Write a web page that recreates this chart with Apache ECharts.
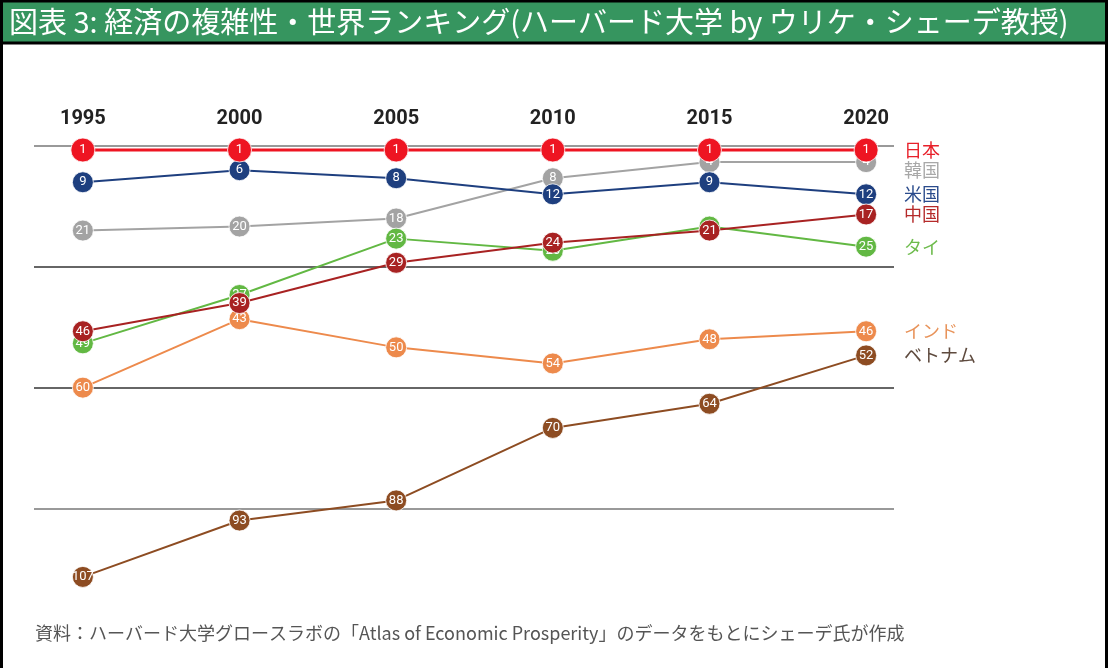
<!DOCTYPE html>
<html><head><meta charset="utf-8">
<script src="https://cdn.jsdelivr.net/npm/echarts@6/dist/echarts.min.js"></script>
<style>html,body{margin:0;padding:0;background:#fff}#c{width:1108px;height:668px}</style>
</head><body><div id="c"></div>
<script>
const years = [1995, 2000, 2005, 2010, 2015, 2020];
const japan    = [1, 1, 1, 1, 1, 1];
const korea    = [21, 20, 18, 8, 4, 4];
const usa      = [9, 6, 8, 12, 9, 12];
const china    = [46, 39, 29, 24, 21, 17];
const thailand = [49, 37, 23, 26, 20, 25];
const india    = [60, 43, 50, 54, 48, 46];
const vietnam  = [107, 93, 88, 70, 64, 52];
const gridRanks = [0, 30, 60, 90];

const chart = echarts.init(document.getElementById('c'));
const jp = '"Noto Sans CJK JP","Noto Sans",sans-serif';

function mk(name, vals, color, opts) {
  opts = opts || {};
  return {
    name: name, type: 'line',
    data: vals.map((v, i) => [years[i], v]),
    symbol: 'circle', symbolSize: opts.size || 21,
    itemStyle: { color: color, borderColor: '#fff', borderWidth: 0.8, opacity: 1 },
    lineStyle: { color: color, width: opts.lw || 2 },
    label: { show: true, position: 'inside', color: '#fff', fontSize: 13, fontFamily: 'Roboto, sans-serif', formatter: p => p.value[1] },
    endLabel: { show: true, formatter: name, color: opts.lc || color, fontSize: 18, fontFamily: jp, distance: 38, offset: [0, opts.dy || 0] },
    z: opts.z || 2,
    silent: true,
    animation: false
  };
}

const series = [
  mk('韓国', korea, '#a3a3a3', { lc: '#a8a8a8', dy: 8, z: 2 }),
  mk('タイ', thailand, '#62b843', { lc: '#6dbb4c', z: 3 }),
  mk('インド', india, '#ed8a4c', { lc: '#e8935a', z: 4 }),
  mk('ベトナム', vietnam, '#8d4c22', { lc: '#5e4a3e', z: 5 }),
  mk('米国', usa, '#1e3f7f', { lc: '#2a4b8c', z: 6 }),
  mk('中国', china, '#a82222', { lc: '#b52a2a', z: 7 }),
  mk('日本', japan, '#ee1522', { lc: '#e8202a', lw: 3, size: 24, z: 8 })
];
series[0].markLine = {
  silent: true, symbol: 'none', label: { show: false },
  lineStyle: { type: 'solid', width: 1.6, color: '#444' },
  data: gridRanks.map((r, i) => ({ yAxis: r, lineStyle: { color: (i === 0 || i === 3) ? '#777' : '#333' } })),
  z: 1
};

chart.setOption({
  animation: false,
  grid: { left: 34, right: 214, top: 146, bottom: 79 },
  xAxis: {
    type: 'value', position: 'top', min: 1993.44, max: 2020.89,
    axisLine: { show: false }, axisTick: { show: false }, splitLine: { show: false },
    axisLabel: { customValues: years, formatter: v => String(v), margin: 17, fontSize: 20, fontWeight: 'bold', color: '#222', fontFamily: 'Roboto, "Liberation Sans", sans-serif' }
  },
  yAxis: {
    type: 'value', inverse: true, min: 0, max: 110,
    axisLine: { show: false }, axisTick: { show: false }, axisLabel: { show: false }, splitLine: { show: false }
  },
  series: series,
  graphic: [
    { type: 'rect', shape: { x: 1.5, y: 1, width: 1105, height: 42 }, style: { fill: '#36955f', stroke: '#000', lineWidth: 3 }, z: 10 },
    { type: 'line', shape: { x1: 1.5, y1: 0, x2: 1.5, y2: 668 }, style: { stroke: '#000', lineWidth: 3 }, z: 10 },
    { type: 'line', shape: { x1: 1106.5, y1: 0, x2: 1106.5, y2: 668 }, style: { stroke: '#000', lineWidth: 3 }, z: 10 },
    { type: 'text', x: 9, y: 22, style: { text: '図表 3: 経済の複雑性・世界ランキング(ハーバード大学 by ウリケ・シェーデ教授)', fill: '#fff', font: '29px ' + jp, textVerticalAlign: 'middle' }, z: 11 },
    { type: 'text', x: 35, y: 633, style: { text: '資料：ハーバード大学グロースラボの「Atlas of Economic Prosperity」のデータをもとにシェーデ氏が作成', fill: '#555', font: '18px ' + jp, textVerticalAlign: 'middle' }, z: 11 }
  ]
});
</script></body></html>
